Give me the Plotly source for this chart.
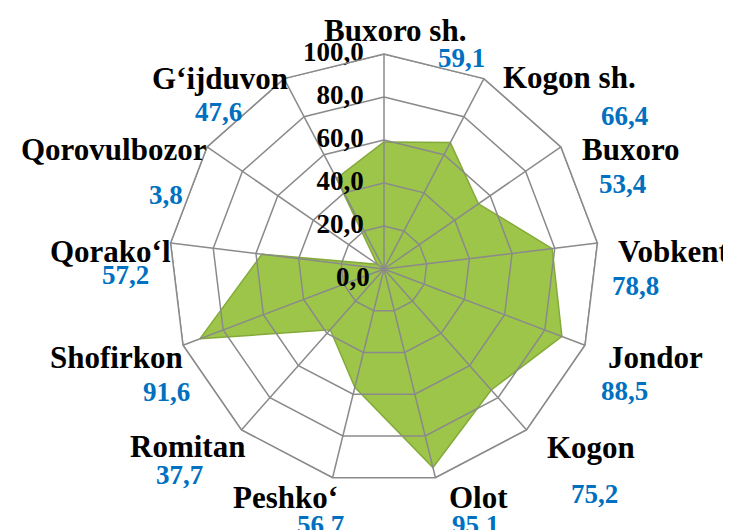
from plotly import graph_objects as go

# districts, clockwise from the top
districts = [
    "Buxoro sh.", "Kogon sh.", "Buxoro", "Vobkent", "Jondor", "Kogon", "Olot",
    "Peshko‘", "Romitan", "Shofirkon", "Qorako‘l", "Qorovulbozor", "G‘ijduvon",
]
values = [59.1, 66.4, 53.4, 78.8, 88.5, 75.2, 95.1, 56.7, 37.7, 91.6, 57.2, 3.8, 47.6]
radial_ticks = [0, 20, 40, 60, 80, 100]

# label placement in pixels (name centre, value centre)
W, H = 731, 530
name_pos = [
    (387, 23), (561, 70), (623, 141), (666, 243), (647, 349), (583, 439), (471, 489),
    (277, 489), (179, 438), (108, 349), (102, 243), (106, 142), (212, 71),
]
value_pos = [
    (453, 50), (616, 108), (614, 176), (627, 278), (616, 383), (586, 486), (467, 517),
    (312, 517), (171, 467), (158, 384), (117, 267), (158, 187), (210, 104),
]

GRID = "#8a8a8a"
SERIF = "Liberation Serif"


def fmt(v):
    return f"{v:.1f}".replace(".", ",")


fig = go.Figure()

closed_theta = districts + [districts[0]]

fig.add_trace(
    go.Scatterpolar(
        r=values + [values[0]],
        theta=closed_theta,
        mode="lines",
        fill="toself",
        fillcolor="#9cc54a",
        line=dict(color="#84aa3a", width=1.5),
        hoverinfo="skip",
        showlegend=False,
    )
)

# grid on top of the fill, as in the original
for ring in radial_ticks[1:]:
    fig.add_trace(
        go.Scatterpolar(
            r=[ring] * len(closed_theta),
            theta=closed_theta,
            mode="lines",
            line=dict(color=GRID, width=1.5),
            hoverinfo="skip",
            showlegend=False,
        )
    )

spoke_r, spoke_t = [], []
for d in districts:
    spoke_r += [0, radial_ticks[-1], None]
    spoke_t += [d, d, None]
fig.add_trace(
    go.Scatterpolar(
        r=spoke_r,
        theta=spoke_t,
        mode="lines",
        line=dict(color=GRID, width=1.5),
        connectgaps=False,
        hoverinfo="skip",
        showlegend=False,
    )
)

# radial tick labels, left of the top spoke (the centre one is an annotation,
# plotly does not draw text sitting exactly on the pole)
outer_ticks = radial_ticks[1:]
fig.add_trace(
    go.Scatterpolar(
        r=outer_ticks,
        theta=[districts[0]] * len(outer_ticks),
        mode="text",
        text=[f"<b>{fmt(t)}</b>" + "\u00a0" * 3 for t in outer_ticks],
        textposition="middle left",
        textfont=dict(family=SERIF, size=27, color="black"),
        cliponaxis=False,
        hoverinfo="skip",
        showlegend=False,
    )
)

annotations = [
    dict(
        x=364 / W, y=1 - 269 / H, xref="paper", yref="paper",
        text=f"<b>{fmt(radial_ticks[0])}</b>", showarrow=False,
        font=dict(family=SERIF, size=27, color="black"),
        xanchor="right", yanchor="middle",
    )
]
for d, v, (nx, ny), (vx, vy) in zip(districts, values, name_pos, value_pos):
    annotations.append(
        dict(
            x=nx / W, y=1 - ny / H, xref="paper", yref="paper",
            text=f"<b>{d}</b>", showarrow=False,
            font=dict(family=SERIF, size=31, color="black"),
            xanchor="center", yanchor="middle",
        )
    )
    annotations.append(
        dict(
            x=vx / W, y=1 - vy / H, xref="paper", yref="paper",
            text=f"<b>{fmt(v)}</b>", showarrow=False,
            font=dict(family=SERIF, size=27, color="#0070c0"),
            xanchor="center", yanchor="middle",
        )
    )

# polar area, shifted so the drawn centre lands at about (386, 268) px
cx, cy, rad = 376, 261, 215

fig.update_layout(
    width=W,
    height=H,
    margin=dict(l=0, r=0, t=0, b=0),
    paper_bgcolor="white",
    polar=dict(
        domain=dict(
            x=[(cx - rad) / W, (cx + rad) / W],
            y=[1 - (cy + rad) / H, 1 - (cy - rad) / H],
        ),
        gridshape="linear",
        bgcolor="white",
        radialaxis=dict(
            range=[0, 100],
            tickvals=radial_ticks,
            showticklabels=False,
            showgrid=False,
            showline=False,
            ticks="",
        ),
        angularaxis=dict(
            direction="clockwise",
            rotation=90,
            showticklabels=False,
            ticks="",
            showgrid=False,
            showline=True,
            linecolor=GRID,
            linewidth=1.5,
        ),
    ),
    annotations=annotations,
)

fig.write_html("out.html")
